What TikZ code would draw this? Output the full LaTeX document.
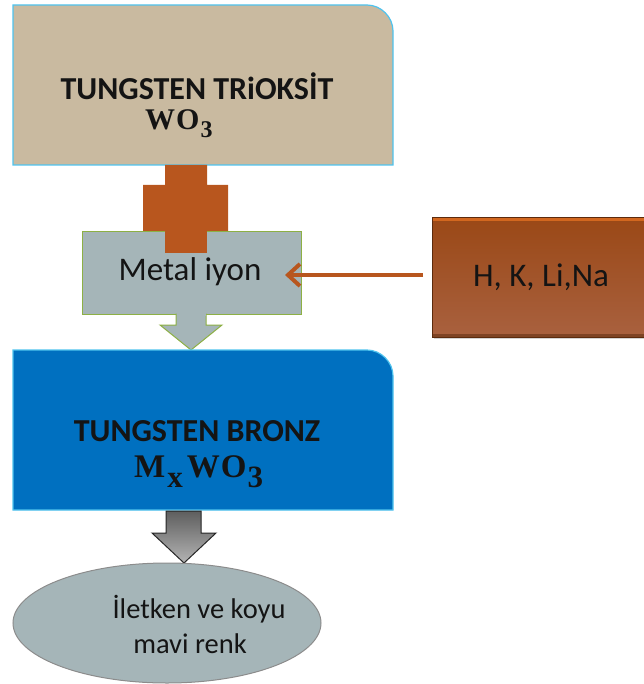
\documentclass[tikz,border=0pt]{standalone}
\usepackage{fontspec}
\setmainfont{Carlito}
\newfontfamily\chemfont{Liberation Serif}
\usetikzlibrary{arrows.meta,shapes.geometric,shadows}

\definecolor{tanfill}{HTML}{C9BAA0}
\definecolor{skyedge}{HTML}{4FC3EE}
\definecolor{rust}{HTML}{B8561E}
\definecolor{ionfill}{HTML}{A5B5B8}
\definecolor{ionedge}{HTML}{8DB045}
\definecolor{bronzeblue}{HTML}{0070C0}
\definecolor{boxtop}{HTML}{9A4816}
\definecolor{boxbottom}{HTML}{A9613F}
\definecolor{boxglint}{HTML}{D2671F}
\definecolor{greytop}{HTML}{5E5E5E}
\definecolor{greybottom}{HTML}{B4B4B4}
\definecolor{inktext}{HTML}{141414}

% lowered subscript: #1 drop, #2 size, #3 text
\newcommand{\lowsub}[3]{\raisebox{-#1}{\fontsize{#2}{#2}\selectfont #3}}

\tikzset{
  boldlabel/.style={font=\bfseries\fontsize{32}{36}\selectfont, text=inktext, align=center},
  plainlabel/.style={font=\fontsize{33}{38}\selectfont, text=inktext, align=center},
  smalllabel/.style={font=\fontsize{28.5}{34}\selectfont, text=inktext},
  chemlabel/.style={font=\chemfont\bfseries\fontsize{30}{34}\selectfont, text=inktext},
  bigchemlabel/.style={font=\chemfont\bfseries\fontsize{33}{36}\selectfont, text=inktext},
  cardedge/.style={draw=skyedge, line width=1.2pt},
}

\begin{document}
\begin{tikzpicture}[x=1pt, y=-1pt]
  \useasboundingbox (0,0) rectangle (643,684);

  % tungsten trioxide card, top-right corner rounded
  \draw[cardedge, fill=tanfill]
    (13,165) -- (13,5) -- (367,5) .. controls (381,5) and (393,17) .. (393,31) -- (393,165) -- cycle;
  \node[boldlabel] (trioxide) at (197,86) {TUNGSTEN TRiOKSİT};
  \node[chemlabel, anchor=base west, inner sep=0pt] (wothree) at (145,130)
    {W\kern1ptO\kern1pt\lowsub{8pt}{24}{3}};

  % rust coloured block between the oxide and the ion box
  \fill[rust] (165,165) -- (207,165) -- (207,185) -- (228,185) -- (228,232)
              -- (143,232) -- (143,185) -- (165,185) -- cycle;

  % metal ion box
  \node[draw=ionedge, fill=ionfill, line width=1pt, minimum width=219pt, minimum height=82pt,
        inner sep=0pt] (ion) at (191.5,273) {};
  \fill[rust] (165,231) rectangle (207,253);
  \node[plainlabel] (iontext) at (190,272) {Metal iyon};

  % block arrow from the ion box down to the bronze card
  \draw[draw=ionedge, fill=ionfill, line width=1pt, line join=miter]
    (176,313.5) -- (176,325) -- (160,325) -- (191,350) -- (222,325) -- (206,325) -- (206,313.5);
  \fill[ionfill] (176.5,312) rectangle (205.5,316);

  % source of the ions
  \node[draw=boxtop!60!black, line width=1pt, top color=boxtop, bottom color=boxbottom,
        minimum width=230pt, minimum height=120pt, inner sep=0pt, anchor=north west,
        drop shadow={shadow xshift=1pt, shadow yshift=-1.5pt, opacity=0.35}]
        (ions) at (432,217) {};
  \fill[boxglint] ([shift={(1,1)}]ions.north west) rectangle ([shift={(-1,4)}]ions.north east);
  \fill[boxtop!55!black, opacity=0.5] ([shift={(1,-4)}]ions.south west) rectangle ([shift={(-1,-1)}]ions.south east);
  \node[plainlabel] (ionlist) at (541,277) {H, K, Li,Na};
  \coordinate (ionhit) at (285,275);
  \draw[rust, line width=4pt, -{Straight Barb[length=12pt,width=22pt,line width=4pt]}]
    (ions.west |- ionhit) ++(-9,0) -- (ionhit);

  % tungsten bronze card
  \draw[cardedge, fill=bronzeblue]
    (13,510) -- (13,350) -- (367,350) .. controls (381,350) and (393,362) .. (393,376) -- (393,510) -- cycle;
  \node[boldlabel] (bronze) at (197,431) {TUNGSTEN BRONZ};
  \node[bigchemlabel, anchor=base west, inner sep=0pt] (mxwo) at (134,477)
    {M\kern2pt\lowsub{10pt}{31}{x}\kern4ptW\kern1ptO\kern1pt\lowsub{10pt}{31}{3}};

  % grey block arrow to the property ellipse
  \shade[top color=greytop, bottom color=greybottom, draw=black!85, line width=1pt, line join=miter]
    (166,511) -- (166,533) -- (152,533) -- (184,563) -- (216,533) -- (201,533) -- (201,511) -- cycle;

  % resulting property
  \node[ellipse, draw=black!45, fill=ionfill, line width=1pt, minimum width=308pt,
        minimum height=120pt, inner sep=0pt] (result) at (167,623) {};
  \node[smalllabel] (resultone) at (199,609) {İletken ve koyu};
  \node[smalllabel] (resulttwo) at (190,644) {mavi renk};
\end{tikzpicture}
\end{document}
